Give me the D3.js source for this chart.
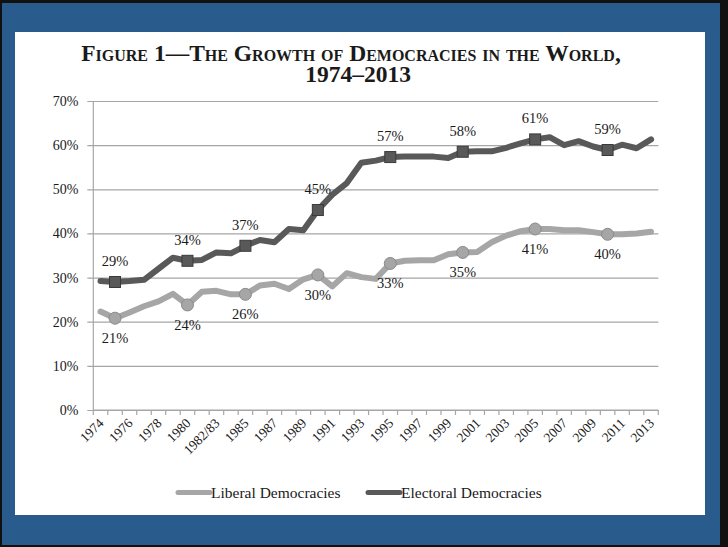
<!DOCTYPE html>
<html>
<head>
<meta charset="utf-8">
<script src="https://cdn.jsdelivr.net/npm/d3@7"></script>
<style>
  body { margin: 0; background: #000; }
  svg { display: block; }
  text { font-family: "Liberation Serif", "DejaVu Serif", serif; fill: #1a1a1a; }
</style>
</head>
<body>
<svg id="chart" width="728" height="547"></svg>
<script>
// years on the x axis (1982 and 1983 share one point)
const categories = ["1974","1975","1976","1977","1978","1979","1980","1981","1982/83","1984",
  "1985","1986","1987","1988","1989","1990","1991","1992","1993","1994","1995","1996","1997",
  "1998","1999","2000","2001","2002","2003","2004","2005","2006","2007","2008","2009","2010",
  "2011","2012","2013"]

// percent of countries
const liberal = [22.3,20.8,22.1,23.5,24.6,26.3,23.8,26.8,27.0,26.2,26.2,28.2,28.6,27.4,29.6,
  30.6,28.0,31.0,30.1,29.7,33.2,33.8,33.9,33.9,35.3,35.7,35.8,38.0,39.5,40.5,41.0,41.0,40.7,
  40.7,40.3,39.8,39.8,40.0,40.4]
const electoral = [29.2,29.0,29.2,29.5,32.0,34.5,33.8,34.0,35.7,35.5,37.2,38.5,38.0,41.0,40.7,
  45.3,48.8,51.4,56.0,56.5,57.3,57.4,57.4,57.4,57.1,58.5,58.6,58.6,59.4,60.4,61.3,61.8,60.0,
  60.9,59.7,58.9,60.1,59.3,61.3]

// years that get a marker and a data label
const markerYears = ["1975","1980","1985","1990","1995","2000","2005","2010"]
const liberalLabels = ["21%","24%","26%","30%","33%","35%","41%","40%"]
const electoralLabels = ["29%","34%","37%","45%","57%","58%","61%","59%"]

const yTicks = [0,10,20,30,40,50,60,70]
const seriesNames = ["Liberal Democracies","Electoral Democracies"]

const svg = d3.select("#chart")

// frame: black edge, blue border, white panel
svg.append("rect").attr("width",728).attr("height",547).attr("fill","#111")
svg.append("rect").attr("x",2).attr("y",3).attr("width",718).attr("height",542).attr("fill","#295b8c")
svg.append("rect").attr("x",15).attr("y",32).attr("width",690).attr("height",483).attr("fill","#fff")

// title, two separate lines
svg.append("text").attr("x",351).attr("y",61).attr("text-anchor","middle")
  .style("font-weight","bold").style("font-size","23.5px").style("font-variant","small-caps")
  .text("Figure 1—The Growth of Democracies in the World,")
svg.append("text").attr("x",358).attr("y",82).attr("text-anchor","middle")
  .style("font-weight","bold").style("font-size","23.5px")
  .text("1974–2013")

const plotLeft = 93.3, plotRight = 658.3, plotTop = 101, plotBottom = 410

const x = d3.scaleBand().domain(categories).range([plotLeft, plotRight]).padding(0)
const y = d3.scaleLinear().domain([0,70]).range([plotBottom, plotTop])
const cx = d => x(d) + x.bandwidth()/2

// gridlines + y labels
const yAxis = svg.append("g").attr("transform",`translate(${plotLeft},0)`)
  .call(d3.axisLeft(y).tickValues(yTicks).tickSize(-(plotRight-plotLeft)).tickFormat(d => d + "%"))
yAxis.select(".domain").remove()
yAxis.selectAll(".tick line").attr("x1",-6).attr("stroke","#a6a6a6").attr("stroke-width",1.2)
yAxis.selectAll(".tick text").attr("x",-15).style("font-size","14px")
  .style("font-family","Liberation Serif, serif").attr("fill","#1a1a1a")

svg.append("line").attr("x1",plotLeft).attr("x2",plotLeft).attr("y1",plotTop).attr("y2",plotBottom)
  .attr("stroke","#a6a6a6").attr("stroke-width",1.2)

// x axis: ticks on category edges
svg.append("line").attr("x1",plotLeft).attr("x2",plotRight).attr("y1",plotBottom).attr("y2",plotBottom)
  .attr("stroke","#a6a6a6").attr("stroke-width",1.2)
svg.append("g").selectAll("line").data(categories.concat(["end"])).join("line")
  .attr("x1",d => d === "end" ? plotRight : x(d)).attr("x2",d => d === "end" ? plotRight : x(d))
  .attr("y1",plotBottom).attr("y2",plotBottom+5).attr("stroke","#a6a6a6").attr("stroke-width",1.2)

svg.append("g").selectAll("text").data(categories.filter((d,i) => i % 2 === 0)).join("text")
  .attr("transform",d => `translate(${cx(d)+4},${plotBottom+14}) rotate(-45)`)
  .attr("text-anchor","end").style("font-size","13.5px").text(d => d)

// lines
const line = d3.line().x((d,i) => cx(categories[i])).y(d => y(d))

svg.append("path").datum(liberal).attr("d",line).attr("fill","none")
  .attr("stroke","#a6a6a6").attr("stroke-width",6).attr("stroke-linejoin","round").attr("stroke-linecap","round")
svg.append("path").datum(electoral).attr("d",line).attr("fill","none")
  .attr("stroke","#595959").attr("stroke-width",6).attr("stroke-linejoin","round").attr("stroke-linecap","round")

// markers
const val = (arr, yr) => arr[categories.indexOf(yr)]

svg.append("g").selectAll("circle").data(markerYears).join("circle")
  .attr("cx",d => cx(d)).attr("cy",d => y(val(liberal,d))).attr("r",6)
  .attr("fill","#a6a6a6").attr("stroke","#8a8a8a").attr("stroke-width",1)
svg.append("g").selectAll("rect").data(markerYears).join("rect")
  .attr("x",d => cx(d)-5.5).attr("y",d => y(val(electoral,d))-5.5).attr("width",11).attr("height",11)
  .attr("fill","#595959").attr("stroke","#3a3a3a").attr("stroke-width",1)

// data labels
svg.append("g").selectAll("text").data(markerYears).join("text")
  .attr("x",d => cx(d)).attr("y",d => y(val(liberal,d))+25).attr("text-anchor","middle")
  .style("font-size","14.5px").text((d,i) => liberalLabels[i])
svg.append("g").selectAll("text").data(markerYears).join("text")
  .attr("x",d => cx(d)).attr("y",d => y(val(electoral,d))-16).attr("text-anchor","middle")
  .style("font-size","14.5px").text((d,i) => electoralLabels[i])

// legend
const legend = svg.append("g")
const legendX = [178, 368], legendColors = ["#a6a6a6","#595959"]
seriesNames.forEach((name, i) => {
  legend.append("line").attr("x1",legendX[i]).attr("x2",legendX[i]+32).attr("y1",492.5).attr("y2",492.5)
    .attr("stroke",legendColors[i]).attr("stroke-width",5).attr("stroke-linecap","round")
  legend.append("text").attr("x",legendX[i]+33).attr("y",497.5).style("font-size","15.5px").text(name)
})
</script>
</body>
</html>
